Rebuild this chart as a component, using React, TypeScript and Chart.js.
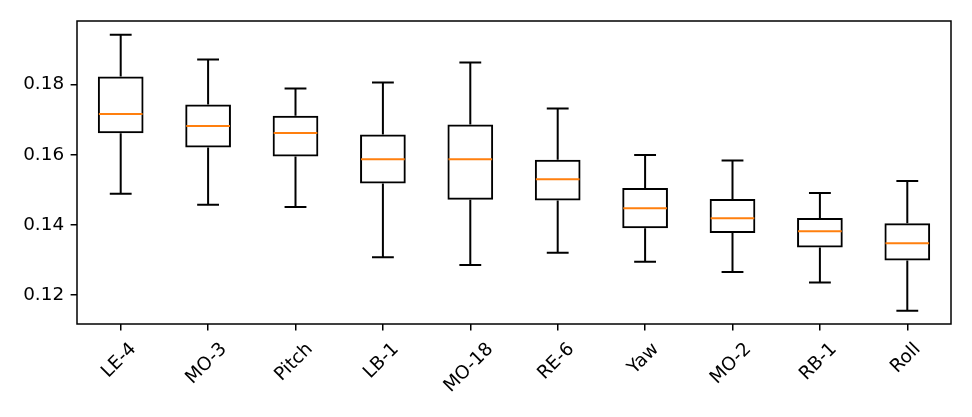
import React, { useRef, useEffect } from 'react';
import { Chart, registerables, Plugin } from 'chart.js';

Chart.register(...registerables);

const categories = ['LE-4', 'MO-3', 'Pitch', 'LB-1', 'MO-18', 'RE-6', 'Yaw', 'MO-2', 'RB-1', 'Roll'];
const whiskerLow = [0.1489, 0.1458, 0.1451, 0.1308, 0.1286, 0.1321, 0.1295, 0.1266, 0.1236, 0.1156];
const quartile1 = [0.1661, 0.1621, 0.1595, 0.1518, 0.1472, 0.147, 0.1391, 0.1377, 0.1336, 0.1299];
const medians = [0.1716, 0.1682, 0.1662, 0.1587, 0.1587, 0.153, 0.1448, 0.1419, 0.1382, 0.1348];
const quartile3 = [0.1823, 0.1743, 0.1711, 0.1658, 0.1686, 0.1586, 0.1505, 0.1474, 0.142, 0.1405];
const whiskerHigh = [0.1942, 0.1871, 0.1789, 0.1806, 0.1863, 0.1732, 0.1599, 0.1584, 0.1491, 0.1525];
const yTicks = [0.12, 0.14, 0.16, 0.18];

const FONT_SIZE = 18.4;
const FONT = `${FONT_SIZE}px "DejaVu Sans"`;
const LW = 2;

// whiskers, caps, medians and the frame, all placed through the chart's scales
const boxExtras: Plugin<'bar'> = {
  id: 'boxExtras',
  afterDatasetsDraw(chart) {
    const { ctx, chartArea } = chart;
    const x = chart.scales.x;
    const y = chart.scales.y;
    const unit = x.getPixelForValue(1) - x.getPixelForValue(0);
    ctx.save();
    ctx.lineWidth = LW;
    ctx.lineCap = 'butt';
    categories.forEach((_, i) => {
      const cx = x.getPixelForValue(i);
      const capHalf = unit * 0.125;
      const boxHalf = unit * 0.25;
      const lo = y.getPixelForValue(whiskerLow[i]);
      const hi = y.getPixelForValue(whiskerHigh[i]);
      ctx.strokeStyle = '#000';
      ctx.beginPath();
      ctx.moveTo(cx, y.getPixelForValue(quartile1[i]));
      ctx.lineTo(cx, lo);
      ctx.moveTo(cx, y.getPixelForValue(quartile3[i]));
      ctx.lineTo(cx, hi);
      ctx.moveTo(cx - capHalf, lo);
      ctx.lineTo(cx + capHalf, lo);
      ctx.moveTo(cx - capHalf, hi);
      ctx.lineTo(cx + capHalf, hi);
      ctx.stroke();
      const md = y.getPixelForValue(medians[i]);
      ctx.strokeStyle = '#ff7f0e';
      ctx.beginPath();
      ctx.moveTo(cx - boxHalf, md);
      ctx.lineTo(cx + boxHalf, md);
      ctx.stroke();
    });
    ctx.strokeStyle = '#000';
    ctx.lineWidth = 1.5;
    ctx.strokeRect(chartArea.left, chartArea.top, chartArea.right - chartArea.left, chartArea.bottom - chartArea.top);
    ctx.restore();
  },
  afterDraw(chart) {
    // rotated category labels, centred under their ticks as matplotlib does
    const { ctx, chartArea } = chart;
    const x = chart.scales.x;
    ctx.save();
    ctx.font = FONT;
    ctx.fillStyle = '#000';
    ctx.textAlign = 'center';
    ctx.textBaseline = 'middle';
    const h = FONT_SIZE * 1.17;
    categories.forEach((label, i) => {
      const w = ctx.measureText(label).width;
      const half = (w + h) / (2 * Math.SQRT2);
      const cx = x.getPixelForValue(i) - 1.5;
      const cy = chartArea.bottom + 12.8 + half + 2;
      ctx.save();
      ctx.translate(cx, cy);
      ctx.rotate(-Math.PI / 4);
      ctx.fillText(label, 0, 0);
      ctx.restore();
    });
    ctx.restore();
  },
};

const App: React.FC = () => {
  const chartRef = useRef<HTMLCanvasElement | null>(null);
  const chartInstance = useRef<Chart | null>(null);

  useEffect(() => {
    const canvas = chartRef.current;
    if (!canvas) return;
    if (chartInstance.current) chartInstance.current.destroy();

    chartInstance.current = new Chart(canvas, {
      type: 'bar',
      data: {
        labels: categories,
        datasets: [
          {
            data: categories.map((_, i) => [quartile1[i], quartile3[i]]) as any,
            backgroundColor: 'rgba(255,255,255,0)',
            borderColor: '#000',
            borderWidth: LW,
            borderSkipped: false,
            categoryPercentage: 1,
            barPercentage: 0.523,
          },
        ],
      },
      options: {
        animation: false,
        responsive: true,
        maintainAspectRatio: false,
        layout: { padding: { top: 21, right: 21, left: 0, bottom: 0 } },
        plugins: { legend: { display: false }, tooltip: { enabled: false } },
        scales: {
          x: {
            grid: {
              display: true,
              offset: false,
              drawOnChartArea: false,
              drawTicks: true,
              tickLength: 6.4,
              color: '#000',
              lineWidth: 1.5,
            },
            border: { display: false },
            ticks: { display: false },
            afterFit: (scale: any) => {
              scale.height = 93;
            },
          },
          y: {
            min: 0.1118,
            max: 0.1981,
            afterBuildTicks: (scale: any) => {
              scale.ticks = yTicks.map((v) => ({ value: v }));
            },
            grid: { display: true, drawOnChartArea: false, drawTicks: true, tickLength: 6.4, color: '#000', lineWidth: 1.5 },
            border: { display: false },
            ticks: {
              color: '#000',
              font: { family: 'DejaVu Sans', size: FONT_SIZE },
              padding: 6.5,
              callback: (v: any) => Number(v).toFixed(2),
            },
            afterFit: (scale: any) => {
              scale.width = 77;
            },
          },
        },
      },
      plugins: [boxExtras],
    });

    return () => {
      if (chartInstance.current) {
        chartInstance.current.destroy();
        chartInstance.current = null;
      }
    };
  }, []);

  return (
    <div style={{ position: 'absolute', left: 0, top: 0, width: 972, height: 417, background: '#fff' }}>
      <canvas ref={chartRef} />
    </div>
  );
};

export default App;
